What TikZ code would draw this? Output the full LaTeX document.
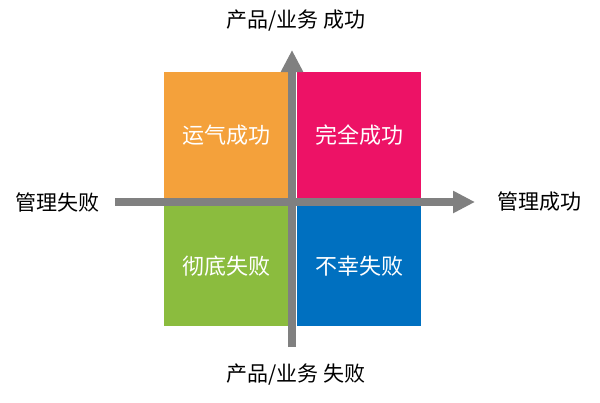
\documentclass[tikz,border=0pt]{standalone}
\usepackage{fontspec}
\setmainfont{Noto Sans CJK SC}
\usepackage{tikz}
\usetikzlibrary{arrows.meta,positioning}

\definecolor{luck}{HTML}{F4A13B}
\definecolor{win}{HTML}{ED1266}
\definecolor{fail}{HTML}{8BBC3E}
\definecolor{bad}{HTML}{0070C0}
\definecolor{axisgray}{HTML}{808080}

\begin{document}
\begin{tikzpicture}[x=1pt,y=-1pt,
  quad/.style={minimum width=124pt,inner sep=0pt,text=white,font=\fontsize{22}{22}\selectfont},
  axislabel/.style={inner sep=0pt,font=\fontsize{21}{21}\selectfont},
  axisline/.style={axisgray,line width=8pt,-{Triangle[width=21pt,length=22pt]}}]
  \useasboundingbox[fill=white] (0,0) rectangle (600,402);

  \node[quad,fill=luck,minimum height=126pt] (luck) at (226,135) {运气成功};
  \node[quad,fill=win,minimum height=126pt] (win) at (359,135) {完全成功};
  \node[quad,fill=fail,minimum height=120pt] (fail) at (226,266) {彻底失败};
  \node[quad,fill=bad,minimum height=120pt] (bad) at (359,266) {不幸失败};

  \coordinate (xl) at (115,202);
  \coordinate (xr) at (475,202);
  \coordinate (yb) at (292,347);
  \coordinate (yt) at (292,50);

  \draw[axisline] (xl) -- (xr);
  \draw[axisline] (yb) -- (yt);

  \node[axislabel] (mgfail) [left=15pt of xl] {管理失败};
  \node[axislabel] (mgwin) [right=22pt of xr] {管理成功};
  \node[axislabel] (prwin) [above=19pt of yt, xshift=4pt] {产品/业务 成功};
  \node[axislabel] (prfail) [below=17pt of yb, xshift=4pt] {产品/业务 失败};
\end{tikzpicture}
\end{document}
